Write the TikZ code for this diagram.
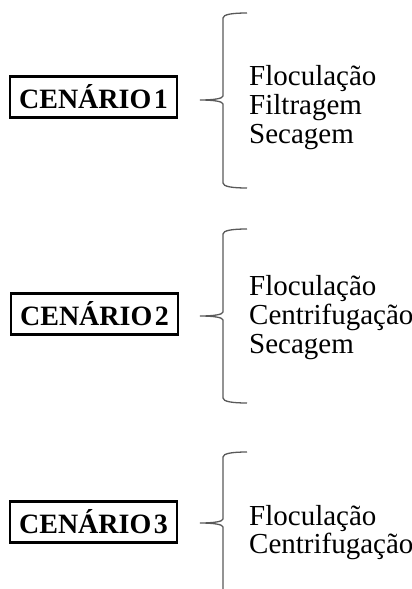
\documentclass[tikz,border=0pt]{standalone}
\usepackage{fontspec}
\setmainfont{Liberation Serif}
\tikzset{
  scenbox/.style={draw, line width=2.2pt, minimum width=167pt, minimum height=41pt, inner sep=0pt,
    font=\bfseries\fontsize{28}{28}\selectfont},
  stepline/.style={anchor=base west, inner sep=0pt, font=\fontsize{29}{29}\selectfont},
  bracestyle/.style={draw=black!65, line width=1.3pt}
}
\newcommand{\drawbrace}[3]{%
  \draw[bracestyle] (247,{#1}) .. controls (232,{#1}) and (223,{#1+1.5}) .. (223,{#1+5})
    -- (223,{#2-4}) .. controls (223,{#2-1.5}) and (214,{#2}) .. (200,{#2})
    .. controls (214,{#2}) and (223,{#2+1.5}) .. (223,{#2+4})
    -- (223,{#3-5}) .. controls (223,{#3-1.5}) and (232,{#3}) .. (247,{#3});}
\begin{document}
\begin{tikzpicture}[x=1pt,y=-1pt]
\useasboundingbox (0,0) rectangle (412,589);
% scenario 1
\node[scenbox] (c1) at (93.5,97) {CENÁRIO\kern2.5pt1};
\drawbrace{13}{100}{188}
\node[stepline] (a1) at (249,85) {Floculação};
\node[stepline] (b1) at (249,114) {Filtragem};
\node[stepline] (d1) at (249,143) {Secagem};
% scenario 2
\node[scenbox] (c2) at (94.5,314) {CENÁRIO\kern2.5pt2};
\drawbrace{229}{316}{403}
\node[stepline] (a2) at (249,295) {Floculação};
\node[stepline] (b2) at (249,324) {Centrifugação};
\node[stepline] (d2) at (249,353) {Secagem};
% scenario 3
\node[scenbox] (c3) at (93.5,522) {CENÁRIO\kern2.5pt3};
\draw[bracestyle] (247,452) .. controls (232,452) and (223,453.5) .. (223,457)
    -- (223,519) .. controls (223,521.5) and (214,523) .. (200,523)
    .. controls (214,523) and (223,524.5) .. (223,527) -- (223,589);
\node[stepline] (a3) at (249,525) {Floculação};
\node[stepline] (b3) at (249,553) {Centrifugação};
\end{tikzpicture}
\end{document}
